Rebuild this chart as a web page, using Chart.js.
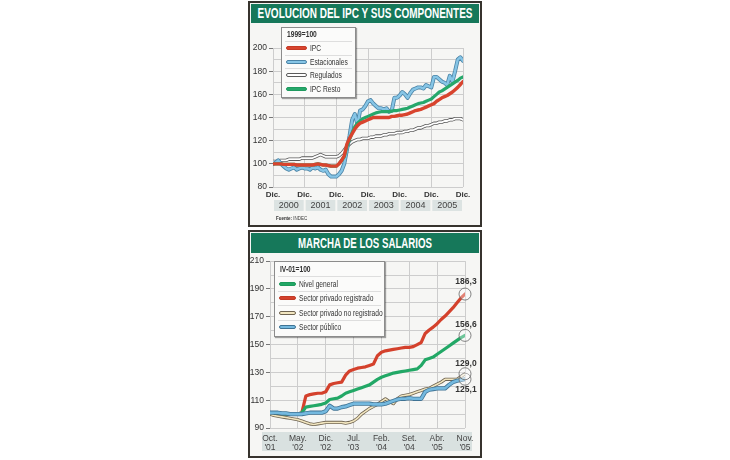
<!DOCTYPE html>
<html>
<head>
<meta charset="utf-8">
<script src="https://cdn.jsdelivr.net/npm/chart.js@4.4.1/dist/chart.umd.min.js"></script>
<style>
body{margin:0;background:#fff;width:730px;height:460px;position:relative;overflow:hidden;font-family:'Liberation Sans',Arial,sans-serif;color:#333}
.panel{position:absolute;left:248px;width:230px;border:2px solid #37332e;background:#f6f6f4}
.title{position:absolute;left:1px;right:1px;top:1px;height:19px;background:#16785a;color:#fff;font-weight:bold;font-size:14px;line-height:19px;white-space:nowrap;overflow:hidden}
.title span{position:absolute;left:50%;top:0;transform-origin:center center}
canvas{position:absolute}
.legend{position:absolute;background:#fbfbfa;border:1px solid #8c8c8c;box-shadow:1px 1px 1px rgba(0,0,0,.35);font-size:9px;overflow:hidden}
.legend .hd{font-weight:bold;padding:0 0 0 5px}
.legend .row{display:flex;align-items:center;border-top:1px solid #dedede;margin:0 3px;white-space:nowrap;box-sizing:border-box}
.legend .sw{border-radius:3px;margin:0 3px 0 1px;flex:none}
.nar{display:inline-block;transform:scaleX(.74);transform-origin:left center;white-space:nowrap}
.src{position:absolute;left:276px;top:215px;font-size:6px}
</style>
</head>
<body>
<div class="panel" style="top:1px;height:222px"><div class="title"><span data-w="215">EVOLUCION DEL IPC Y SUS COMPONENTES</span></div></div>
<div class="panel" style="top:230px;height:224px"><div class="title" style="height:20px;line-height:20px"><span data-w="134">MARCHA DE LOS SALARIOS</span></div></div>
<canvas id="c1" width="230" height="200" style="left:250px;top:24px"></canvas>
<canvas id="c2" width="230" height="200" style="left:250px;top:254px"></canvas>
<div class="legend" id="leg1" style="left:281px;top:27px;width:73px;height:69px"></div>
<div class="legend" id="leg2" style="left:274px;top:261px;width:109px;height:74px"></div>
<div class="src"><span class="nar"><b>Fuente:</b> INDEC</span></div>
<script>
// --- Evolucion del IPC (1999=100), mensual dic 1999 - dic 2005
const ipc = [100,
  100,100,100,99.5,99.5,99.5,99.5,99.5,99,99,99,99,
  99,99,99,99.5,100,99.5,99,99,98.5,98,98,98,
  100,103,107,117,122,126,130,133,135,136,137,138,
  139,140,140,140,140,140,140,140,141,141,141.5,142,
  142,142.5,143,144,145,146,146.5,147,148,149,150,151,
  152,154,155.5,157,158,159,160.5,162,164,166,168.5,171];
const estacionales = [100,
  101,103,100,98,96,95,96,97,95,96,97,96,
  96,95,97,96,97,95,94,95,91,89,89,89,
  91,94,100,112,124,138,143,134,146,147,150,154,
  155,152,150,148,148,147,148,145,146,157,157,159,
  162,160,157,161,164,165,166,166,165,168,167,166,
  175,175,173,171,170,168,176,171,180,190,192,189];
const regulados = [102,
  102,102,103,103,103,104,104,104,104,104,105,105,
  105,105,105,106,107,108,107,106,106,106,106,106,
  107,109,112,115,117,119,120,121,121,122,122,122,
  123,123,124,124,124,125,125,126,126,126,127,127,
  127,128,128,129,129,130,131,131,132,133,133,134,
  135,135,136,136,137,137,138,138,139,139,139,138];
const ipcResto = [100,
  100,100,100,99.5,99.5,99.5,99.5,99.5,99,99,99,99,
  99,99,99,99.5,100,99.5,99,99,98.5,98,98,98,
  100,103,106,115,121,127,132,135,137,139,140,141,
  142,143,144,144.5,145,145,145,145,145.5,146,146,146.5,
  147,147.5,148,149,150,151,152,152.5,153,154,155,156,
  158,160,162,163,164.5,166,167.5,169,170.5,172,174,175];
const topTicks = ['Dic.','Dic.','Dic.','Dic.','Dic.','Dic.','Dic.'];
const topYears = ['2000','2001','2002','2003','2004','2005'];

// --- Marcha de los salarios (IV-01=100), mensual oct 2001 - nov 2005
const nivelGeneral = [100,100,100,100,100,100,100,100,101,105,105.5,106,106.5,107,108,110.5,111,111.5,113,115,116,117,118,119,120,121,123,125,126.5,127.5,128.5,129.5,130,130.5,131,131.5,132,132.5,135,139,140,141,143,145,147,149,151,153,155,156.6];
const privadoReg = [100,100,100,100,100,100,100,100,101,113,114,114.5,115,115,116,121,122,122.5,123,128,131,132,133,133.5,134,135,136,142,144.5,145.5,146,146.5,147,147.5,148,148,148.5,150,151.5,158,160.5,162.5,165,168,170.5,173.5,176.5,180,183.5,186.3];
const privadoNoReg = [100,99,98.5,98,97.5,97,96.5,96,95,94,93,92.5,93,93.5,94,94,94,94,94,93.5,94,95,97,100,102,104,105.5,107,109,111,109,107.5,111,113,113.5,114,115,116,117,118,118.5,120,121.5,123,125,125,125,125,127,129.0];
const publico = [101,101,101,100.5,100.5,100,100,100,100,100.5,101,101,101,101,102,106,104,104,105,105.5,106.5,107.5,107.5,107.5,107.5,107.5,107,107,107,107.5,108.5,109.5,110.5,111,111,111.5,111,111,111,116,117.5,118,118.5,118.5,118.5,121,123,124,124.5,125.1];
const bottomTicks = [['Oct.',"'01"],['May.',"'02"],['Dic.',"'02"],['Jul.',"'03"],['Feb.',"'04"],['Set.',"'04"],['Abr.',"'05"],['Nov.',"'05"]];

const FONT = "'Liberation Sans',Arial,sans-serif";
Chart.defaults.font.family = FONT;
Chart.defaults.color = '#333';

// squeeze the banner titles to the reference width
document.querySelectorAll('.title span').forEach(s => {
  s.style.transform = 'translateX(-50%) scaleX(' + (+s.dataset.w / s.offsetWidth).toFixed(3) + ')';
});

const pts = arr => arr.map((v, i) => ({x: i, y: v}));
function line(label, data, color, width, order, extra) {
  return Object.assign({label, data: pts(data), borderColor: color, borderWidth: width,
    pointRadius: 0, tension: 0, order, borderJoinStyle: 'round', borderCapStyle: 'round'}, extra || {});
}

function buildLegend(id, head, opt) {
  const el = document.getElementById(id);
  let h = '<div class="hd" style="height:' + opt.headH + 'px;line-height:' + opt.headH + 'px"><span class="nar">' + head + '</span></div>';
  opt.list.forEach(it => {
    h += '<div class="row" style="height:' + opt.rowH + 'px"><span class="sw" style="width:' + opt.swW + 'px;height:' + it.h + 'px;background:' + it.fill + ';border:1px solid ' + it.edge + '"></span><span class="nar">' + it.name + '</span></div>';
  });
  el.innerHTML = h;
}

const yearBand = {
  id: 'yearBand',
  afterDraw(chart) {
    const {ctx, chartArea: a, scales: {x}} = chart;
    ctx.save();
    ctx.font = '9px ' + FONT;
    ctx.textAlign = 'center';
    ctx.textBaseline = 'middle';
    topYears.forEach((yr, i) => {
      const x0 = x.getPixelForValue(i * 12) + 1, x1 = x.getPixelForValue((i + 1) * 12) - 1;
      ctx.fillStyle = '#dce3e2';
      ctx.fillRect(x0, a.bottom + 13, x1 - x0, 11);
      ctx.fillStyle = '#444';
      ctx.fillText(yr, (x0 + x1) / 2, a.bottom + 18.5);
    });
    ctx.restore();
  }
};

const monthBand = {
  id: 'monthBand',
  beforeDraw(chart) {
    const {ctx, chartArea: a} = chart;
    ctx.save();
    ctx.fillStyle = '#d9e1e0';
    ctx.fillRect(12, a.bottom + 4, 210, 19);
    ctx.restore();
  }
};

const endLabels = {
  id: 'endLabels',
  afterDatasetsDraw(chart) {
    const ctx = chart.ctx;
    ctx.save();
    chart.data.datasets.forEach((ds, i) => {
      if (ds.labelDy === undefined) return;
      const el = chart.getDatasetMeta(i).data;
      const p = el[el.length - 1];
      ctx.beginPath();
      ctx.arc(p.x, p.y, 6, 0, Math.PI * 2);
      ctx.fillStyle = 'rgba(255,255,255,0.35)';
      ctx.fill();
      ctx.strokeStyle = '#666';
      ctx.lineWidth = 0.8;
      ctx.stroke();
      const v = ds.data[ds.data.length - 1].y;
      ctx.font = 'bold 8.5px ' + FONT;
      ctx.textAlign = 'center';
      ctx.textBaseline = 'middle';
      ctx.fillStyle = '#333';
      ctx.fillText(v.toFixed(1).replace('.', ','), p.x + 1, p.y + ds.labelDy);
    });
    ctx.restore();
  }
};

new Chart(document.getElementById('c1'), {
  type: 'line',
  data: {
    datasets: [
      line('IPC', ipc, '#d8442e', 3.4, 0),
      line('IPC Resto', ipcResto, '#26a86b', 3.2, 1),
      line('Estacionales', estacionales, '#86c5e6', 2.4, 2),
      line('Estacionales borde', estacionales, '#4a83a6', 4, 3),
      line('Regulados', regulados, '#ffffff', 1.8, 4),
      line('Regulados borde', regulados, '#5a5a5a', 3.4, 5)
    ]
  },
  options: {
    responsive: false,
    animation: false,
    layout: {padding: {top: 24, right: 17, left: 0, bottom: 0}},
    plugins: {legend: {display: false}, tooltip: {enabled: false}},
    scales: {
      x: {
        type: 'linear', min: 0, max: 72,
        ticks: {stepSize: 12, autoSkip: false, maxRotation: 0, padding: 3,
          font: {size: 8, weight: 'bold'}, callback: (v, i) => topTicks[i]},
        grid: {color: '#cdcdcd', drawTicks: false},
        border: {display: false},
        afterFit: s => { s.height = 37; }
      },
      y: {
        min: 80, max: 200,
        ticks: {stepSize: 10, autoSkip: false, padding: 2, font: {size: 8.5},
          callback: v => v % 20 === 0 ? v : ''},
        grid: {color: '#cdcdcd', tickLength: 4,
          tickColor: c => (c.tick && c.tick.value % 20 === 0) ? '#777' : 'rgba(0,0,0,0)'},
        border: {display: false},
        afterFit: s => { s.width = 23; }
      }
    }
  },
  plugins: [yearBand]
});

new Chart(document.getElementById('c2'), {
  type: 'line',
  data: {
    datasets: [
      line('Sector público', publico, '#74b9df', 2.6, 0, {labelDy: 10}),
      line('Sector público borde', publico, '#3f7394', 4.2, 1),
      line('Sector privado no registrado', privadoNoReg, '#f2e6c0', 1.6, 2, {labelDy: -10}),
      line('Sector privado no registrado borde', privadoNoReg, '#6e6350', 3.2, 3),
      line('Nivel general', nivelGeneral, '#22a866', 3.2, 4, {labelDy: -11}),
      line('Sector privado registrado', privadoReg, '#d4412c', 3.2, 5, {labelDy: -12})
    ]
  },
  options: {
    responsive: false,
    animation: false,
    layout: {padding: {top: 5, right: 15, left: 0, bottom: 0}},
    plugins: {legend: {display: false}, tooltip: {enabled: false}},
    scales: {
      x: {
        type: 'linear', min: 0, max: 49,
        ticks: {stepSize: 7, autoSkip: false, maxRotation: 0, padding: 6,
          font: {size: 8.5, lineHeight: 1.1}, color: '#444', callback: (v, i) => bottomTicks[i]},
        grid: {color: '#cdcdcd', drawTicks: false},
        border: {display: false},
        afterFit: s => { s.height = 26; }
      },
      y: {
        min: 90, max: 210,
        ticks: {stepSize: 10, autoSkip: false, padding: 2, font: {size: 8.5},
          callback: v => (v - 90) % 20 === 0 ? v : ''},
        grid: {color: '#cdcdcd', tickLength: 4,
          tickColor: c => (c.tick && (c.tick.value - 90) % 20 === 0) ? '#777' : 'rgba(0,0,0,0)'},
        border: {display: false},
        afterFit: s => { s.width = 20; }
      }
    }
  },
  plugins: [monthBand, endLabels]
});

buildLegend('leg1', '1999=100', {headH: 13, rowH: 13.5, swW: 19, list: [
  {name: 'IPC', fill: '#d8442e', edge: '#c53a26', h: 2},
  {name: 'Estacionales', fill: '#86c5e6', edge: '#4a83a6', h: 2},
  {name: 'Regulados', fill: '#ffffff', edge: '#5a5a5a', h: 2},
  {name: 'IPC Resto', fill: '#26a86b', edge: '#1f9a5f', h: 2}
]});
buildLegend('leg2', 'IV-01=100', {headH: 14, rowH: 14.5, swW: 15, list: [
  {name: 'Nivel general', fill: '#22a866', edge: '#1d9a5c', h: 2},
  {name: 'Sector privado registrado', fill: '#d4412c', edge: '#c23a26', h: 2},
  {name: 'Sector privado no registrado', fill: '#f2e6c0', edge: '#6e6350', h: 2},
  {name: 'Sector público', fill: '#74b9df', edge: '#3f7394', h: 2}
]});
</script>
</body>
</html>
